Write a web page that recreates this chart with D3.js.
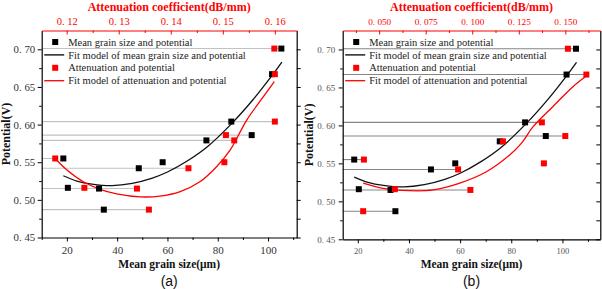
<!DOCTYPE html>
<html><head><meta charset="utf-8">
<script src="https://cdn.jsdelivr.net/npm/d3@7"></script>
<style>
html,body{margin:0;padding:0;background:#fff;}
svg{display:block;}
</style></head><body>
<svg id="chart" width="602" height="289"></svg>
<script>
// potential (V) of the 11 samples, same order everywhere
const POT = [0.555, 0.516, 0.515, 0.487, 0.542, 0.550, 0.579, 0.604, 0.586, 0.667, 0.701];
// mean grain size (μm), identical in (a) and (b)
const GRAIN = [18.6, 20.4, 32.8, 34.7, 48.6, 58.1, 75.5, 85.4, 93.5, 101.6, 105.3];
// attenuation coefficient (dB/mm)
const ATT_A = [0.1178, 0.1234, 0.1335, 0.1358, 0.1434, 0.1503, 0.1522, 0.1600, 0.1506, 0.1600, 0.1599];
const ATT_B = [0.0418, 0.0584, 0.0990, 0.0414, 0.0924, 0.1385, 0.1165, 0.1374, 0.1500, 0.1613, 0.1514];

// fit curves
const FIT_GRAIN = [[18.6, 0.532], [24, 0.525], [30, 0.521], [38, 0.519], [46, 0.522], [54, 0.529],
  [60, 0.537], [68, 0.552], [76, 0.571], [86, 0.603], [94, 0.633], [102, 0.667], [105.5, 0.683]];
const FIT_ATT_A = [[0.1178, 0.555], [0.1200, 0.540], [0.1232, 0.524], [0.1264, 0.514], [0.1296, 0.508],
  [0.1341, 0.504], [0.1379, 0.505], [0.1418, 0.511], [0.1456, 0.524], [0.1488, 0.544],
  [0.1514, 0.566], [0.1546, 0.606], [0.1578, 0.637], [0.1599, 0.657]];
const FIT_ATT_B = [[0.0414, 0.524], [0.0521, 0.517], [0.0665, 0.514], [0.0790, 0.515], [0.0933, 0.524],
  [0.1076, 0.539], [0.1201, 0.561], [0.1266, 0.577], [0.1326, 0.598], [0.1434, 0.625],
  [0.1541, 0.651], [0.1613, 0.665]];

// grey guide lines: [sample index, series the line runs to]
const GUIDES_A = [[10, "g"], [7, "a"], [8, "g"], [6, "a"], [0, "a"], [4, "a"], [2, "a"], [3, "a"]];
const GUIDES_B = [[10, "g"], [9, "a"], [7, "a"], [8, "a"], [0, "a"], [4, "a"], [2, "a"], [3, "g"]];

// ticks
const Y_TICKS = [0.45, 0.50, 0.55, 0.60, 0.65, 0.70];
const Y_MINOR = [0.475, 0.525, 0.575, 0.625, 0.675];
const X_TICKS = [20, 40, 60, 80, 100];
const X_MINOR_A = [10, 30, 50, 70, 90, 110];
const X_MINOR_B = [30, 50, 70, 90, 110];
const T_TICKS_A = [0.12, 0.13, 0.14, 0.15, 0.16];
const T_MINOR_A = [0.125, 0.135, 0.145, 0.155];
const T_TICKS_B = [0.050, 0.075, 0.100, 0.125, 0.150];
const T_MINOR_B = [0.0375, 0.0625, 0.0875, 0.1125, 0.1375, 0.1625];

const LEGEND = ["Mean grain size and potential", "Fit model of mean grain size and potential",
  "Attenuation and potential", "Fit model of attenuation and potential"];

const svg = d3.select("#chart");
const SERIF = "Liberation Serif";
const RED = "#ff0000";

// "0.70" -> "0. 70"
const spaced = digits => d => "0. " + d3.format("." + digits + "f")(d).slice(2);

function panel(o) {
  const g = svg.append("g");
  const x = d3.scaleLinear().domain(o.xDom).range([o.l, o.r]);
  const t = d3.scaleLinear().domain(o.tDom).range([o.l, o.r]);
  const y = d3.scaleLinear().domain([0.45, 0.725]).range([o.b, o.t]);

  // guide lines
  o.guides.forEach(([i, s]) => {
    const x2 = s === "g" ? x(GRAIN[i]) : t(o.att[i]);
    g.append("line").attr("x1", o.l).attr("x2", x2).attr("y1", y(POT[i])).attr("y2", y(POT[i]))
      .attr("stroke", o.guideColor).attr("stroke-width", 1.1);
  });

  // fits
  const lineG = d3.line().x(d => x(d[0])).y(d => y(d[1])).curve(d3.curveCatmullRom);
  const lineT = d3.line().x(d => t(d[0])).y(d => y(d[1])).curve(d3.curveCatmullRom);
  g.append("path").datum(FIT_GRAIN).attr("fill", "none").attr("stroke", "#111")
    .attr("stroke-width", 1.3).attr("d", lineG);
  g.append("path").datum(o.fit).attr("fill", "none").attr("stroke", RED)
    .attr("stroke-width", 1.3).attr("d", lineT);

  // points
  const S = 6;
  g.selectAll(null).data(GRAIN).join("rect")
    .attr("x", d => x(d) - S / 2).attr("y", (d, i) => y(POT[i]) - S / 2)
    .attr("width", S).attr("height", S).attr("fill", "#000");
  g.selectAll(null).data(o.att).join("rect")
    .attr("x", d => t(d) - S / 2).attr("y", (d, i) => y(POT[i]) - S / 2)
    .attr("width", S).attr("height", S).attr("fill", RED);

  // axes
  const style = (sel, color, size) => sel.attr("color", color).attr("font-family", SERIF)
    .attr("font-size", size).call(s => s.selectAll("text").attr("fill", o.tickText));
  g.append("g").attr("transform", `translate(0,${o.b})`)
    .call(d3.axisBottom(x).tickValues(X_TICKS).tickFormat(d3.format("d")).tickSize(4).tickSizeOuter(0).tickPadding(5))
    .call(s => style(s, "#000", o.xFont));
  g.append("g").attr("transform", `translate(0,${o.b})`)
    .call(d3.axisBottom(x).tickValues(o.xMinor.filter(v => v <= o.xDom[1])).tickFormat("").tickSize(2.5))
    .call(s => s.select(".domain").remove());
  g.append("g").attr("transform", `translate(${o.l},0)`)
    .call(d3.axisLeft(y).tickValues(Y_TICKS).tickFormat(spaced(2)).tickSize(4).tickSizeOuter(0).tickPadding(o.yPad))
    .call(s => style(s, "#000", o.yFont));
  g.append("g").attr("transform", `translate(${o.l},0)`)
    .call(d3.axisLeft(y).tickValues(Y_MINOR).tickFormat("").tickSize(2.5))
    .call(s => s.select(".domain").remove());
  g.append("g").attr("transform", `translate(${o.r},0)`)
    .call(d3.axisRight(y).tickValues(Y_TICKS.concat(Y_MINOR)).tickFormat("").tickSize(o.rightTick).tickSizeOuter(0))
    .attr("color", "#000");
  g.append("g").attr("transform", `translate(0,${o.t})`)
    .call(d3.axisTop(t).tickValues(o.tTicks).tickFormat(spaced(o.tDigits)).tickSize(-4).tickSizeOuter(0).tickPadding(5.5))
    .call(s => style(s, RED, o.tFont))
    .call(s => s.selectAll("text").attr("fill", RED));
  g.append("g").attr("transform", `translate(0,${o.t})`)
    .call(d3.axisTop(t).tickValues(o.tMinor).tickFormat("").tickSize(-2.5))
    .attr("color", RED).call(s => s.select(".domain").remove());
  g.selectAll(".domain").attr("stroke-width", 1.2);

  // axis titles
  const mid = (o.l + o.r) / 2;
  g.append("text").attr("x", mid).attr("y", 11).attr("text-anchor", "middle")
    .attr("font-family", SERIF).attr("font-weight", "bold").attr("font-size", 12)
    .attr("fill", RED).text("Attenuation coefficient(dB/mm)");
  g.append("text").attr("x", mid).attr("y", 268).attr("text-anchor", "middle")
    .attr("font-family", SERIF).attr("font-weight", "bold").attr("font-size", 11.5)
    .attr("fill", "#111").text("Mean grain size(μm)");
  g.append("text").attr("transform", `translate(${o.yTitleX},${(o.t + o.b) / 2}) rotate(-90)`)
    .attr("text-anchor", "middle").attr("font-family", SERIF).attr("font-weight", "bold")
    .attr("font-size", 12).attr("fill", "#111").text("Potential(V)");
  g.append("text").attr("x", mid).attr("y", 286).attr("text-anchor", "middle")
    .attr("font-family", "Liberation Sans").attr("font-size", 14).attr("fill", "#111").text(o.tag);

  // legend
  const lx = o.l + 1.5, ly = o.t + 11.5, dy = 12.9;
  LEGEND.forEach((label, i) => {
    const cy = ly + i * dy, col = i < 2 ? "#000" : RED;
    if (i % 2 === 0) g.append("rect").attr("x", lx + 9).attr("y", cy - 3).attr("width", 6).attr("height", 6).attr("fill", col);
    else g.append("line").attr("x1", lx + 1).attr("x2", lx + 21).attr("y1", cy).attr("y2", cy)
      .attr("stroke", col).attr("stroke-width", 1.3);
    g.append("text").attr("x", lx + 25).attr("y", cy + 3.6).attr("font-family", SERIF)
      .attr("font-size", 10.5).attr("fill", "#222").text(label);
  });
}

panel({
  l: 41.7, r: 296.7, t: 30.5, b: 237.5, xDom: [10, 111.4], tDom: [0.1152, 0.1642],
  att: ATT_A, fit: FIT_ATT_A, guides: GUIDES_A, guideColor: "#c2c2c2",
  xMinor: X_MINOR_A, tTicks: T_TICKS_A, tMinor: T_MINOR_A, tDigits: 2,
  xFont: 11, yFont: 10.8, tFont: 10.5, yPad: 2.5, tickText: "#333", rightTick: 4,
  yTitleX: 10, tag: "(a)"
});
panel({
  l: 342.7, r: 600.3, t: 30.5, b: 239.3, xDom: [14.1, 114.8], tDom: [0.0304, 0.1688],
  att: ATT_B, fit: FIT_ATT_B, guides: GUIDES_B, guideColor: "#858585",
  xMinor: X_MINOR_B, tTicks: T_TICKS_B, tMinor: T_MINOR_B, tDigits: 3,
  xFont: 8.5, yFont: 9, tFont: 9.2, yPad: 3.5, tickText: "#555", rightTick: -4,
  yTitleX: 313, tag: "(b)"
});
</script>
</body></html>
